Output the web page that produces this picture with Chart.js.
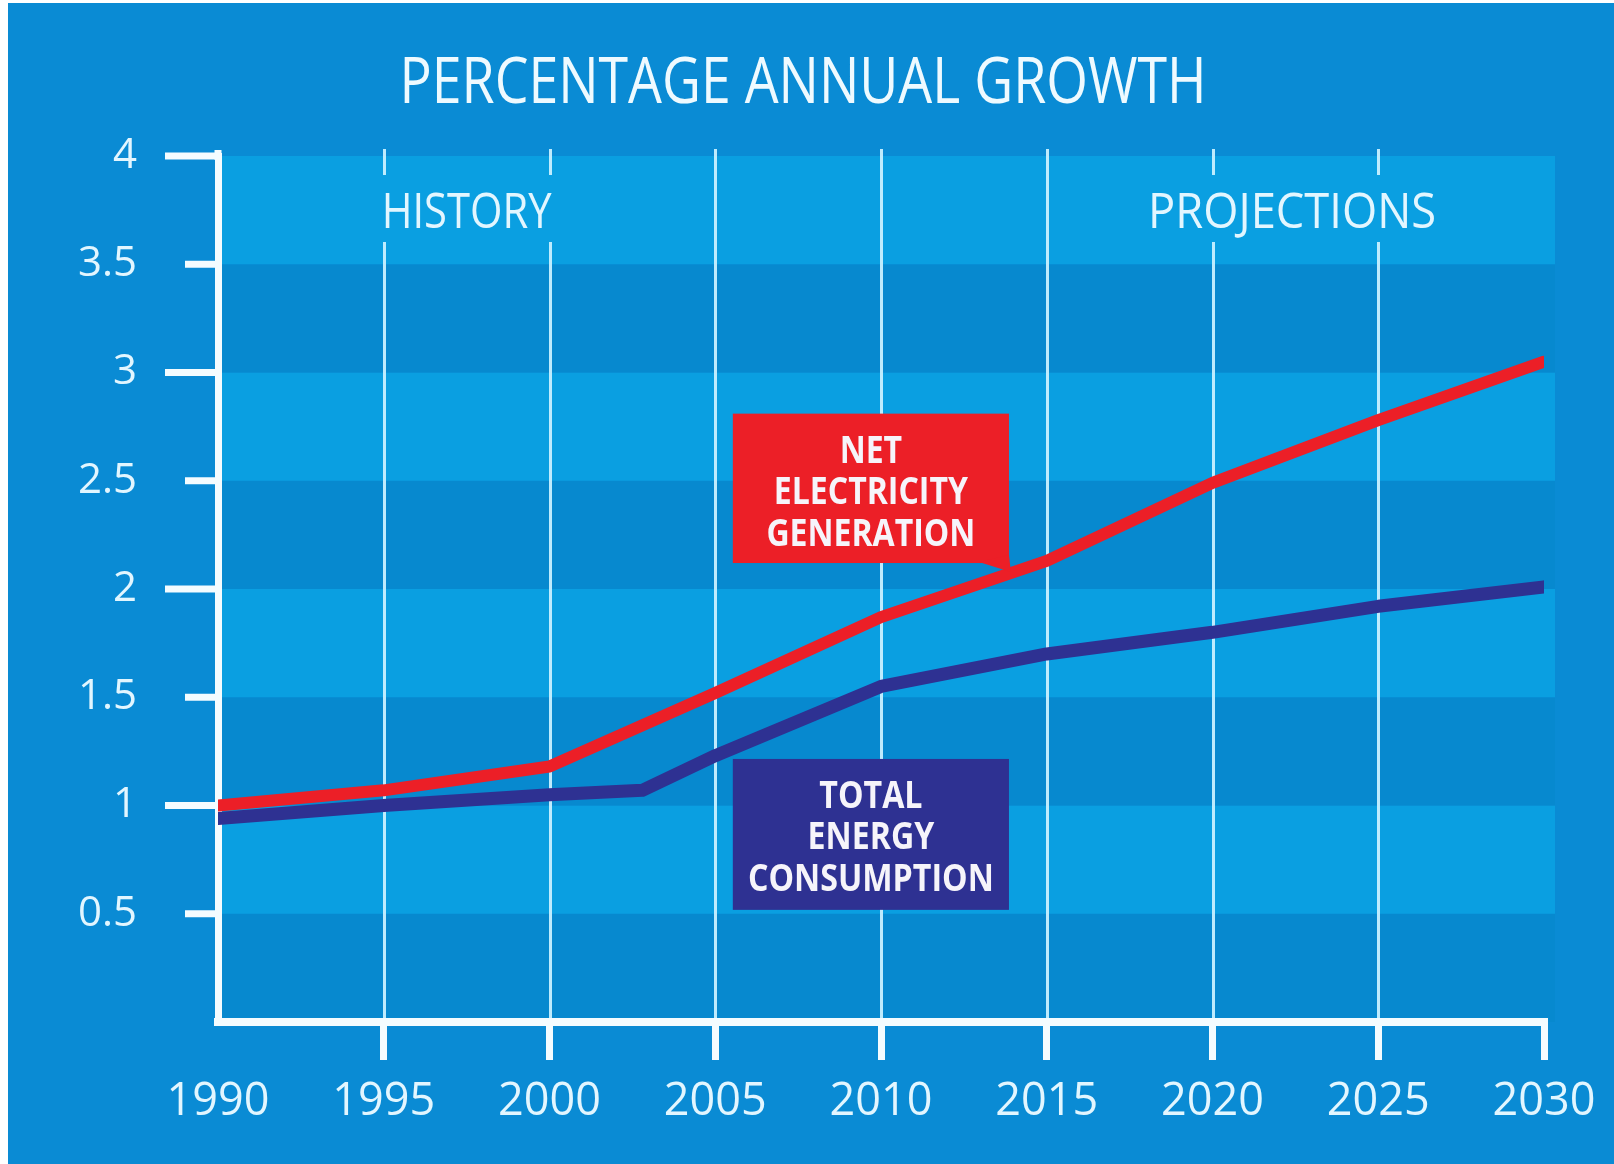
<!DOCTYPE html>
<html>
<head>
<meta charset="utf-8">
<script src="https://cdn.jsdelivr.net/npm/chart.js@4.4.1/dist/chart.umd.min.js"></script>
<style>
  html, body { margin: 0; padding: 0; background: #ffffff; overflow: hidden; }
  #c { display: block; }
</style>
</head>
<body>
<canvas id="c" width="1614" height="1164"></canvas>
<script>
// ---------------- data ----------------
const chartTitle = 'PERCENTAGE ANNUAL GROWTH';
const xTickYears = [1990, 1995, 2000, 2005, 2010, 2015, 2020, 2025, 2030];
const yTickValues = [0, 0.5, 1, 1.5, 2, 2.5, 3, 3.5, 4];
const electricityYears = [1990, 1995, 2000, 2005, 2010, 2015, 2020, 2025, 2030];
const electricityValues = [1.00, 1.07, 1.18, 1.52, 1.87, 2.13, 2.49, 2.78, 3.05];
const energyYears = [1990, 1995, 2000, 2002.8, 2005, 2010, 2015, 2020, 2025, 2030];
const energyValues = [0.94, 1.00, 1.05, 1.07, 1.23, 1.55, 1.70, 1.80, 1.92, 2.01];
const periodLabels = ['HISTORY', 'PROJECTIONS'];
const periodCenters = [1997.5, 2022.4];
const electricityLabel = ['NET', 'ELECTRICITY', 'GENERATION'];
const energyLabel = ['TOTAL', 'ENERGY', 'CONSUMPTION'];

// ---------------- style / layout ----------------
const BG = '#0a8bd4';
const BAND_DARK = '#0789cf';
const BAND_LIGHT = '#0a9fe1';
const WHITE = '#f4fcff';
const TEXT = '#e2f6ff';
const GRID = 'rgba(200,240,255,0.95)';
const RED = '#ec1f27';
const NAVY = '#2e3192';

const periodWidths = [170, 288];
const boxes = [
  { x0: 2005.53, x1: 2013.86, y0: 2.81, y1: 2.12, color: RED, lines: electricityLabel, widest: 209, tail: true },
  { x0: 2005.53, x1: 2013.86, y0: 1.215, y1: 0.518, color: NAVY, lines: energyLabel, widest: 246, tail: false }
];

function fitText(ctx, txt, cx, baseline, font, targetW, color, forcedScale) {
  ctx.save();
  ctx.font = font;
  const w = ctx.measureText(txt).width;
  const s = forcedScale || (targetW / w);
  ctx.translate(cx, baseline);
  ctx.scale(s, 1);
  ctx.textAlign = 'center';
  ctx.textBaseline = 'alphabetic';
  ctx.fillStyle = color;
  ctx.fillText(txt, 0, 0);
  ctx.restore();
  return s;
}

const deco = {
  id: 'deco',
  beforeDraw(chart) {
    const { ctx, chartArea: a, scales: { x, y } } = chart;
    ctx.save();
    ctx.fillStyle = '#ffffff';
    ctx.fillRect(0, 0, chart.width, chart.height);
    ctx.fillStyle = BG;
    ctx.fillRect(8, 3, chart.width - 8, chart.height - 3);

    // horizontal bands
    const bandRight = a.right + 11;
    for (let i = 0; i < yTickValues.length - 1; i++) {
      const top = y.getPixelForValue(yTickValues[i + 1]);
      const bot = y.getPixelForValue(yTickValues[i]);
      ctx.fillStyle = (i % 2 === 0) ? BAND_DARK : BAND_LIGHT;
      ctx.fillRect(a.left, top, bandRight - a.left, bot - top);
    }

    // period labels + vertical grid lines with gaps
    const gapTop = 175, gapBot = 242;
    const spans = periodLabels.map((t, i) => {
      const cx = x.getPixelForValue(periodCenters[i]);
      return [cx - periodWidths[i] / 2 - 6, cx + periodWidths[i] / 2 + 6];
    });
    ctx.strokeStyle = GRID;
    ctx.lineWidth = 3;
    xTickYears.slice(1, -1).forEach(yr => {
      const px = Math.round(x.getPixelForValue(yr)) + 0.5;
      const inGap = spans.some(s => px >= s[0] && px <= s[1]);
      ctx.beginPath();
      if (inGap) {
        ctx.moveTo(px, a.top - 7); ctx.lineTo(px, gapTop);
        ctx.moveTo(px, gapBot); ctx.lineTo(px, a.bottom);
      } else {
        ctx.moveTo(px, a.top - 7); ctx.lineTo(px, a.bottom);
      }
      ctx.stroke();
    });
    periodLabels.forEach((t, i) => {
      fitText(ctx, t, x.getPixelForValue(periodCenters[i]), 228, '400 49px "Open Sans"', periodWidths[i], TEXT);
    });

    // y tick marks (integer long, half short)
    ctx.fillStyle = WHITE;
    yTickValues.slice(1).forEach(v => {
      const py = y.getPixelForValue(v);
      const len = Number.isInteger(v) ? 53 : 33;
      ctx.fillRect(a.left - len, py - 3.5, len, 7);
    });
    ctx.fillRect(a.left - 3.5, a.top - 6, 7, 10);

    // title
    fitText(ctx, chartTitle, 803, 103, '400 64px "Open Sans"', 807, '#eefaff');
    ctx.restore();
  },
  afterDatasetsDraw(chart) {
    const { ctx, scales: { x, y } } = chart;
    ctx.save();
    boxes.forEach(b => {
      const l = x.getPixelForValue(b.x0), r = x.getPixelForValue(b.x1);
      const t = y.getPixelForValue(b.y0), btm = y.getPixelForValue(b.y1);
      ctx.fillStyle = b.color;
      ctx.fillRect(l, t, r - l, btm - t);
      if (b.tail) {
        ctx.beginPath();
        ctx.moveTo(r - 30, btm - 1);
        ctx.lineTo(r, btm - 8);
        ctx.lineTo(r + 2, btm + 9);
        ctx.closePath();
        ctx.fill();
      }
      const cx = (l + r) / 2;
      const font = '700 38px "Open Sans"';
      ctx.font = font;
      const widestLine = b.lines.reduce((m, s) => ctx.measureText(s).width > ctx.measureText(m).width ? s : m, '');
      const sc = b.widest / ctx.measureText(widestLine).width;
      const offs = [49, 90.5, 132];
      b.lines.forEach((line, i) => fitText(ctx, line, cx, t + offs[i], font, 0, '#f6f4fa', sc));
    });
    ctx.restore();
  }
};

const toPoints = (xs, ys) => xs.map((v, i) => ({ x: v, y: ys[i] }));

new Chart(document.getElementById('c'), {
  type: 'line',
  data: {
    datasets: [
      { label: electricityLabel.join(' '), data: toPoints(electricityYears, electricityValues),
        borderColor: RED, backgroundColor: RED, borderWidth: 12 },
      { label: energyLabel.join(' '), data: toPoints(energyYears, energyValues),
        borderColor: NAVY, backgroundColor: NAVY, borderWidth: 13 }
    ]
  },
  options: {
    responsive: false,
    animation: false,
    devicePixelRatio: 1,
    layout: { padding: { left: 0, right: 70, top: 156, bottom: 0 } },
    plugins: { legend: { display: false }, title: { display: false }, tooltip: { enabled: false } },
    elements: {
      point: { radius: 0, hoverRadius: 0 },
      line: { tension: 0, borderCapStyle: 'round', borderJoinStyle: 'round', fill: false }
    },
    scales: {
      x: {
        type: 'linear', min: 1990, max: 2030,
        afterBuildTicks: s => { s.ticks = xTickYears.map(v => ({ value: v })); },
        afterFit: s => { s.height = 142; },
        grid: {
          drawOnChartArea: false, drawTicks: true, tickLength: 38, tickWidth: 7, lineWidth: 7,
          tickColor: c => (c.tick && c.tick.value === 1990) ? 'rgba(0,0,0,0)' : WHITE
        },
        border: { display: true, color: WHITE, width: 8 },
        ticks: {
          color: TEXT, font: { family: 'Open Sans', size: 45 }, padding: 15,
          maxRotation: 0, autoSkip: false, callback: v => String(v)
        }
      },
      y: {
        type: 'linear', min: 0, max: 4, z: 1,
        afterBuildTicks: s => { s.ticks = yTickValues.map(v => ({ value: v })); },
        afterFit: s => { s.width = 218; },
        grid: { drawOnChartArea: false, drawTicks: false, lineWidth: 7 },
        border: { display: true, color: WHITE, width: 7 },
        ticks: {
          color: TEXT, font: { family: 'Open Sans', size: 42 }, padding: 81,
          callback: v => v === 0 ? '' : String(v)
        }
      }
    }
  },
  plugins: [deco]
});
</script>
</body>
</html>
